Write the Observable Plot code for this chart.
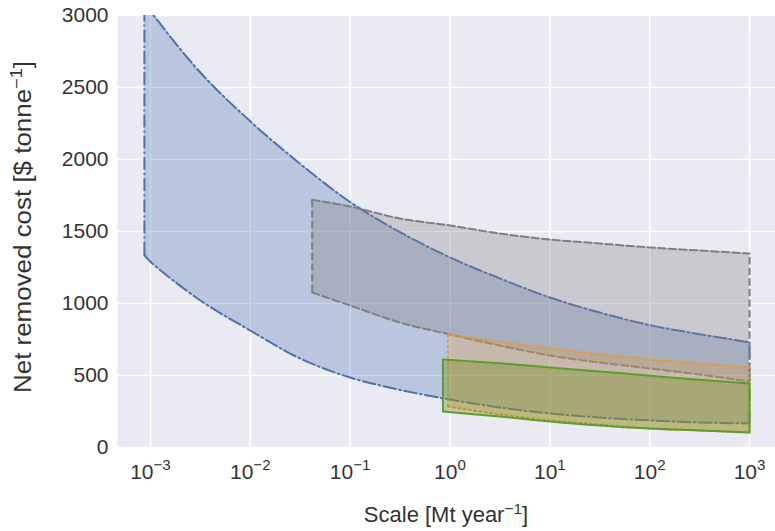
<!DOCTYPE html>
<html><head><meta charset="utf-8">
<script src="https://cdn.jsdelivr.net/npm/d3@7"></script>
<script src="https://cdn.jsdelivr.net/npm/@observablehq/plot@0.6"></script>
<style>body{margin:0;background:#fff}</style>
</head><body><div id="chart"></div>
<script>
// tick values and labels
const xTicks = [1e-3, 1e-2, 1e-1, 1, 10, 100, 1000];
const xTickExp = ["\u22123", "\u22122", "\u22121", "0", "1", "2", "3"];
const yTicks = [0, 500, 1000, 1500, 2000, 2500, 3000];

// Blue (dash-dot) region
const blueX    = [8.7e-4, 1e-3, 3.16e-3, 1e-2, 3.16e-2, 0.1, 0.316, 1, 3.16, 10, 31.6, 100, 316, 1000];
const blueLow  = [1336, 1290, 1021, 812, 618, 486, 400, 333, 278, 236, 208, 188, 174, 167];
const blueHigh = [3090, 3030, 2604, 2265, 1970, 1705, 1495, 1320, 1174, 1042, 937, 850, 787, 731];

// Grey (dashed) region
const greyX    = [0.0417, 0.1, 0.316, 1, 3.16, 10, 31.6, 100, 316, 1000];
const greyLow  = [1076, 986, 868, 785, 708, 639, 590, 549, 507, 458];
const greyHigh = [1720, 1674, 1590, 1542, 1486, 1444, 1417, 1389, 1368, 1347];

// Orange (dotted) region
const orangeX    = [0.955, 3.16, 10, 31.6, 100, 316, 1000];
const orangeLow  = [285, 229, 188, 160, 132, 118, 104];
const orangeHigh = [785, 733, 687, 647, 612, 582, 556];

// Green (solid) region
const greenX    = [0.85, 3.16, 10, 31.6, 100, 316, 1000];
const greenLow  = [250, 215, 181, 153, 132, 118, 104];
const greenHigh = [611, 585, 556, 528, 498, 471, 444];

function region(xs, lo, hi, color, fill, alpha, dash) {
  const rows = xs.map((x, i) => ({x, lo: lo[i], hi: hi[i]}));
  const edges = [rows[0], rows[rows.length - 1]];
  const ls = {stroke: color, strokeWidth: 2, strokeDasharray: dash, clip: true};
  return [
    Plot.areaY(rows, {x: "x", y1: "lo", y2: "hi", fill, fillOpacity: alpha, curve: "catmull-rom", clip: true}),
    Plot.line(rows, {x: "x", y: "hi", curve: "catmull-rom", ...ls}),
    Plot.line(rows, {x: "x", y: "lo", curve: "catmull-rom", ...ls}),
    Plot.ruleX(edges, {x: "x", y1: "lo", y2: "hi", ...ls})
  ];
}

const chart = Plot.plot({
  width: 775,
  height: 531,
  marginLeft: 117,
  marginRight: 0,
  marginTop: 15,
  marginBottom: 84,
  style: {fontFamily: "'Liberation Sans', Arial, sans-serif", fontSize: "21px", color: "#333", background: "white", overflow: "visible"},
  x: {type: "log", domain: [Math.pow(10, -3.33), Math.pow(10, 3.26)], axis: null},
  y: {domain: [0, 3000], axis: null},
  marks: [
    Plot.frame({fill: "#EAEAF2", stroke: "none"}),
    Plot.gridX(xTicks, {stroke: "white", strokeOpacity: 1, strokeWidth: 1.4}),
    Plot.gridY(yTicks, {stroke: "white", strokeOpacity: 1, strokeWidth: 1.4}),
    ...region(blueX, blueLow, blueHigh, "#4C72B0", "#4C72B0", 0.3, "12.8,3.2,2,3.2"),
    ...region(greyX, greyLow, greyHigh, "#7f7f7f", "#7f7f7f", 0.3, "7.4,3.2"),
    ...region(orangeX, orangeLow, orangeHigh, "#E09B3D", "#E09B3D", 0.3, "2,3.3"),
    ...region(greenX, greenLow, greenHigh, "#5B9E2F", "#708A10", 0.35, null),
    Plot.axisX(xTicks, {tickSize: 0, tickPadding: 17, fontSize: 21, label: null,
      tickFormat: d => "10^" + xTickExp[xTicks.indexOf(d)]}),
    Plot.axisY(yTicks, {tickSize: 0, tickPadding: 9, fontSize: 21, label: null, tickFormat: "d"})
  ]
});

document.getElementById("chart").appendChild(chart);

const svg = d3.select(chart);
svg.selectAll('g[aria-label="x-axis tick label"] text').each(function () {
  const t = d3.select(this);
  const s = this.textContent;
  const parts = s.split("^");
  if (parts.length !== 2) return;
  t.text(null);
  t.append("tspan").text(parts[0]);
  t.append("tspan").attr("dy", "-0.65em").attr("font-size", "0.72em").text(parts[1]);
});

// axis titles
const xt = svg.append("text")
  .attr("x", 446).attr("y", 522)
  .attr("text-anchor", "middle").attr("fill", "#333").attr("font-size", 22);
xt.append("tspan").text("Scale [Mt year");
xt.append("tspan").attr("dy", "-0.55em").attr("font-size", "0.7em").text("\u22121");
xt.append("tspan").attr("dy", "0.385em").text("]");

const yt = svg.append("text")
  .attr("transform", "translate(31,227) rotate(-90)")
  .attr("text-anchor", "middle").attr("fill", "#333").attr("font-size", 23)
  .attr("textLength", 332).attr("lengthAdjust", "spacingAndGlyphs");
yt.append("tspan").text("Net removed cost [$ tonne");
yt.append("tspan").attr("dy", "-0.55em").attr("font-size", "0.7em").text("\u22121");
yt.append("tspan").attr("dy", "0.385em").text("]");
</script>
</body></html>
